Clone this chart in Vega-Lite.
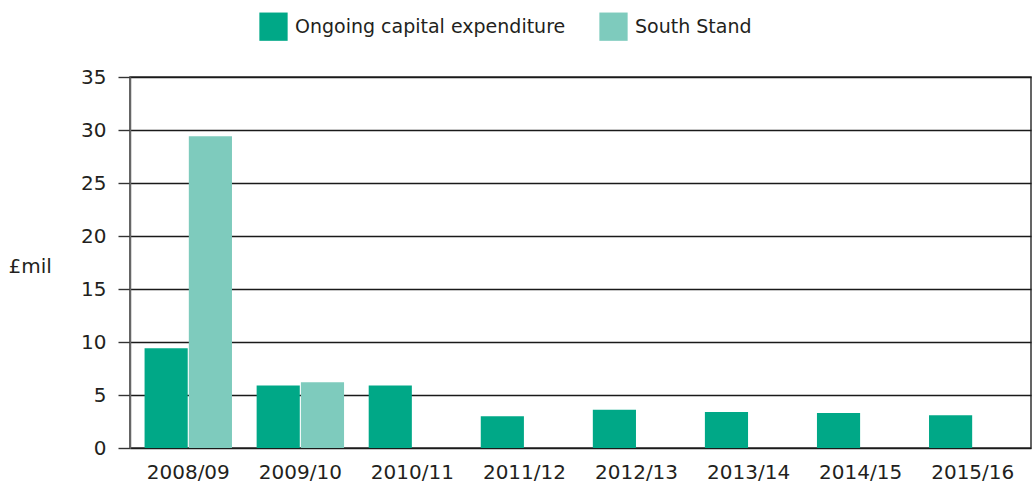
{
  "$schema": "https://vega.github.io/schema/vega-lite/v6.json",
  "width": 901,
  "height": 371,
  "autosize": {"type": "none"},
  "padding": {"left": 130, "top": 77, "right": 2, "bottom": 42},
  "background": "white",
  "config": {
    "font": "DejaVu Sans",
    "view": {"stroke": "#333333", "strokeWidth": 1.5},
    "axis": {"labelColor": "#231f20", "titleColor": "#231f20"}
  },
  "data": {
    "values": [
      {"year": "2008/09", "series": "Ongoing capital expenditure", "value": 9.4},
      {"year": "2008/09", "series": "South Stand", "value": 29.4},
      {"year": "2009/10", "series": "Ongoing capital expenditure", "value": 5.9},
      {"year": "2009/10", "series": "South Stand", "value": 6.2},
      {"year": "2010/11", "series": "Ongoing capital expenditure", "value": 5.9},
      {"year": "2011/12", "series": "Ongoing capital expenditure", "value": 3.0},
      {"year": "2012/13", "series": "Ongoing capital expenditure", "value": 3.6},
      {"year": "2013/14", "series": "Ongoing capital expenditure", "value": 3.4},
      {"year": "2014/15", "series": "Ongoing capital expenditure", "value": 3.3},
      {"year": "2015/16", "series": "Ongoing capital expenditure", "value": 3.1}
    ]
  },
  "mark": {"type": "bar"},
  "encoding": {
    "x": {
      "field": "year", "type": "nominal", "sort": null,
      "scale": {"paddingInner": 0.22, "paddingOuter": 0.13},
      "axis": {"title": null, "labelAngle": 0, "ticks": false, "domain": false, "labelFontSize": 20, "labelPadding": 14, "grid": false}
    },
    "xOffset": {"field": "series", "type": "nominal", "scale": {"paddingInner": 0.025}},
    "y": {
      "field": "value", "type": "quantitative",
      "scale": {"domain": [0, 35], "nice": false},
      "axis": {
        "values": [0, 5, 10, 15, 20, 25, 30, 35],
        "title": "£mil", "titleAngle": 0, "titleFontSize": 20, "titleFontWeight": "normal",
        "titleAlign": "left", "titleBaseline": "middle", "titleX": -122, "titleY": 189,
        "labelFontSize": 20, "labelPadding": 12, "tickSize": 12, "tickColor": "#333333",
        "domainColor": "#666666", "domainWidth": 1.5, "gridColor": "#1a1a1a", "gridWidth": 1.4,
        "tickWidth": 1.4, "gridOpacity": 1
      }
    },
    "color": {
      "field": "series", "type": "nominal",
      "scale": {"domain": ["Ongoing capital expenditure", "South Stand"], "range": ["#00a887", "#7ecbbd"]},
      "legend": {
        "title": null, "orient": "none", "direction": "horizontal",
        "legendX": 129, "legendY": -65,
        "symbolType": "square", "symbolSize": 800, "symbolStrokeWidth": 0,
        "labelFontSize": 19, "labelColor": "#231f20", "labelLimit": 0, "columnPadding": 33, "labelOffset": 7
      }
    }
  }
}
